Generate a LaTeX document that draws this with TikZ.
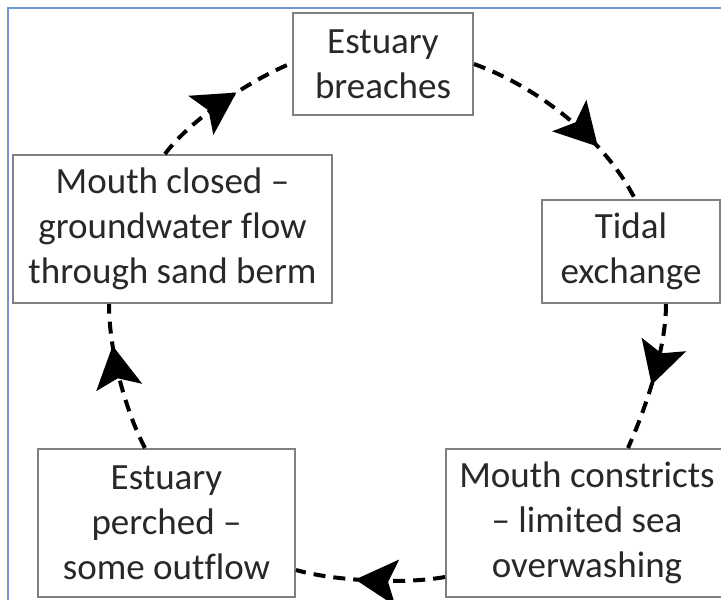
\documentclass[tikz,border=0pt]{standalone}
\usepackage{fontspec}
\setmainfont{Carlito}[Ligatures={NoCommon}]
\usetikzlibrary{arrows.meta,decorations.markings}
\definecolor{boxgray}{RGB}{128,128,128}
\definecolor{txtgray}{RGB}{40,40,40}
\definecolor{frameblue}{RGB}{110,150,215}
\begin{document}
\begin{tikzpicture}[x=1pt,y=-1pt,
  box/.style={draw=boxgray, line width=2pt, fill=white, align=center, inner sep=0pt,
    text=txtgray, font=\fontsize{37}{45}\selectfont},
  flow/.style={line width=4pt, dash pattern=on 12pt off 8pt, postaction={decorate},
    decoration={markings, mark=at position #1 with {\arrow{Stealth[length=42pt,width=46pt,inset=9pt]}}}}
]
\useasboundingbox (0,0) rectangle (721,600);
\clip (0,0) rectangle (721,600);
\draw[frameblue, line width=2pt] (8,600) -- (8,8) -- (721,8);

\node[box, minimum width=180pt, minimum height=102pt] (brea) at (383,64) {Estuary\\breaches};
\node[box, minimum width=178pt, minimum height=103pt] (tida) at (631,251.5) {Tidal\\exchange};
\node[box, minimum width=282pt, minimum height=148pt] (cons) at (587,523) {Mouth constricts\\– limited sea\\overwashing};
\node[box, minimum width=257pt, minimum height=148pt] (perc) at (166.5,523) {Estuary\\perched –\\some outflow};
\node[box, minimum width=319pt, minimum height=148pt] (clos) at (172.5,229) {Mouth closed –\\groundwater flow\\through sand berm};

\draw[flow=0.7] (brea.east) .. controls (540,88) and (605,140) .. ([xshift=4pt]tida.north);
\draw[flow=0.55] ([xshift=35pt]tida.south) .. controls (666,350) and (645,410) .. ([xshift=41pt]cons.north);
\draw[flow=0.6] ([yshift=-54pt]cons.west) .. controls (400,585) and (330,580) .. ([yshift=-47pt]perc.east);
\draw[flow=0.72] ([xshift=-21.5pt]perc.north) .. controls (125,410) and (109,350) .. ([xshift=-63.5pt]clos.south);
\draw[flow=0.6] ([xshift=-7.5pt]clos.north) .. controls (190,120) and (250,80) .. ([yshift=1pt]brea.west);
\end{tikzpicture}
\end{document}
